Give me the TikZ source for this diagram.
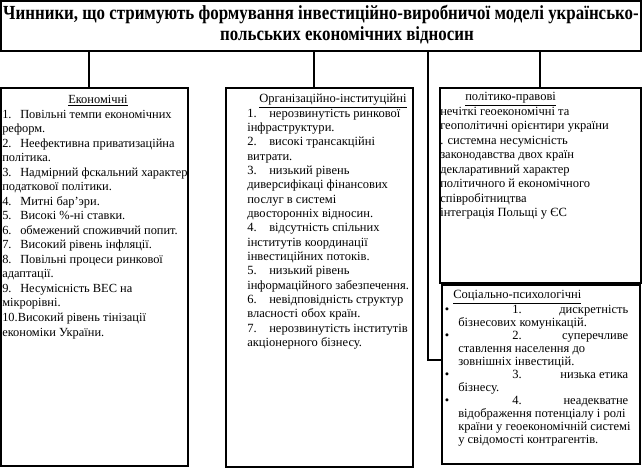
\documentclass[tikz,border=0pt]{standalone}
\usepackage{fontspec}
\usepackage{graphicx}
\setmainfont{Liberation Serif}
\usetikzlibrary{fit,positioning}
\newdimen\px \px=0.75pt
\newcommand{\numtab}[2][18]{\makebox[#1\px][l]{#2}}
\newcommand{\narrow}[1]{\scalebox{0.845}[1]{#1}}

\begin{document}
\begin{tikzpicture}[x=0.75pt,y=-0.75pt,
  panel/.style={draw, line width=0.8pt, inner sep=0pt},
  boxtext/.style={anchor=north west, align=left, inner sep=0pt,
    font=\fontsize{9.3}{10.9}\selectfont},
  link/.style={line width=0.8pt}]

\useasboundingbox (0,0) rectangle (643,468);

% ── Title ─────────────────────────────────────────────────────────
\node[panel, fit={(1,1) (641,51)}] (title) {};
\node[align=center, inner sep=0pt, font=\fontsize{15}{15.8}\selectfont\bfseries]
  (titletext) at (321,25) {\narrow{Чинники, що стримують формування інвестиційно-виробничої моделі українсько-}\\
  \hspace*{52\px}\narrow{польських економічних відносин}};

% ── Groups of factors ─────────────────────────────────────────────
\node[panel, fit={(1,88) (188,466)}] (econ) {};
\node[panel, fit={(226,88) (413,467)}] (org) {};
\node[panel, fit={(440,88) (641,283)}] (legal) {};
\node[panel, fit={(442,285) (640,464)}] (social) {};

% Economic
\node[boxtext] (econtext) at (2,95) {%
  \hspace*{66\px}\underline{Економічні}\\
  \numtab{1.}Повільні темпи економічних\\
  реформ.\\
  \numtab{2.}Неефективна приватизаційна\\
  політика.\\
  \numtab{3.}Надмірний фскальний характер\\
  податкової політики.\\
  \numtab{4.}Митні бар’эри.\\
  \numtab{5.}Високі \%-ні ставки.\\
  \numtab{6.}обмежений споживчий попит.\\
  \numtab{7.}Високий рівень інфляції.\\
  \numtab{8.}Повільні процеси ринкової\\
  адаптації.\\
  \numtab{9.}Несумісність ВЕС на\\
  мікрорівні.\\
  10.Високий рівень тінізації\\
  економіки України.};

% Organisational
\node[boxtext, font=\fontsize{9.4}{10.75}\selectfont] (orgtext) at (247,94) {%
  \hspace*{12\px}\underline{Організаційно-інституційні}\\
  \numtab[22]{1.}нерозвинутість ринкової\\
  інфраструктури.\\
  \numtab[22]{2.}високі трансакційні\\
  витрати.\\
  \numtab[22]{3.}низький рівень\\
  диверсифікаці фінансових\\
  послуг в системі\\
  двосторонніх відносин.\\
  \numtab[22]{4.}відсутність спільних\\
  інститутів координації\\
  інвестиційних потоків.\\
  \numtab[22]{5.}низький рівень\\
  інформаційного забезпечення.\\
  \numtab[22]{6.}невідповідність структур\\
  власності обох країн.\\
  \numtab[22]{7.}нерозвинутість інститутів\\
  акціонерного бізнесу.};

% Political and legal
\node[boxtext, font=\fontsize{9.4}{10.9}\selectfont] (legaltext) at (440,92) {%
  \hspace*{25\px}\underline{політико-правові}\\
  нечіткі геоекономічні та\\
  геополітичні орієнтири україни\\
  . системна несумісність\\
  законодавства двох країн\\
  декларативний характер\\
  політичного й економічного\\
  співробітництва\\
  інтеграція Польщі у ЄС};

% Social and psychological
\node[boxtext, font=\fontsize{9.4}{9.8}\selectfont] (socialtext) at (458,290) {%
  \hspace*{-5\px}\underline{Соціально-психологічні}\\
  \llap{\textbullet\hspace*{9\px}}\makebox[170\px][l]{\hspace*{54\px}1.\hfill дискретність}\\
  бізнесових комунікацій.\\
  \llap{\textbullet\hspace*{9\px}}\makebox[170\px][l]{\hspace*{54\px}2.\hfill суперечливе}\\
  ставлення населення до\\
  зовнішніх інвестицій.\\
  \llap{\textbullet\hspace*{9\px}}\makebox[170\px][l]{\hspace*{54\px}3.\hfill низька етика}\\
  бізнесу.\\
  \llap{\textbullet\hspace*{9\px}}\makebox[170\px][l]{\hspace*{54\px}4.\hfill неадекватне}\\
  відображення потенціалу і ролі\\
  країни у геоекономічній системі\\
  у свідомості контрагентів.};

% ── Connectors ────────────────────────────────────────────────────
\draw[link] (title.south -| 89,0) -- (econ.north -| 89,0);
\draw[link] (title.south -| 314,0) -- (org.north -| 314,0);
\draw[link] (title.south -| 540,0) -- (legal.north -| 540,0);
\draw[link] (title.south -| 428,0) |- (social.west |- 0,360);

\end{tikzpicture}
\end{document}
